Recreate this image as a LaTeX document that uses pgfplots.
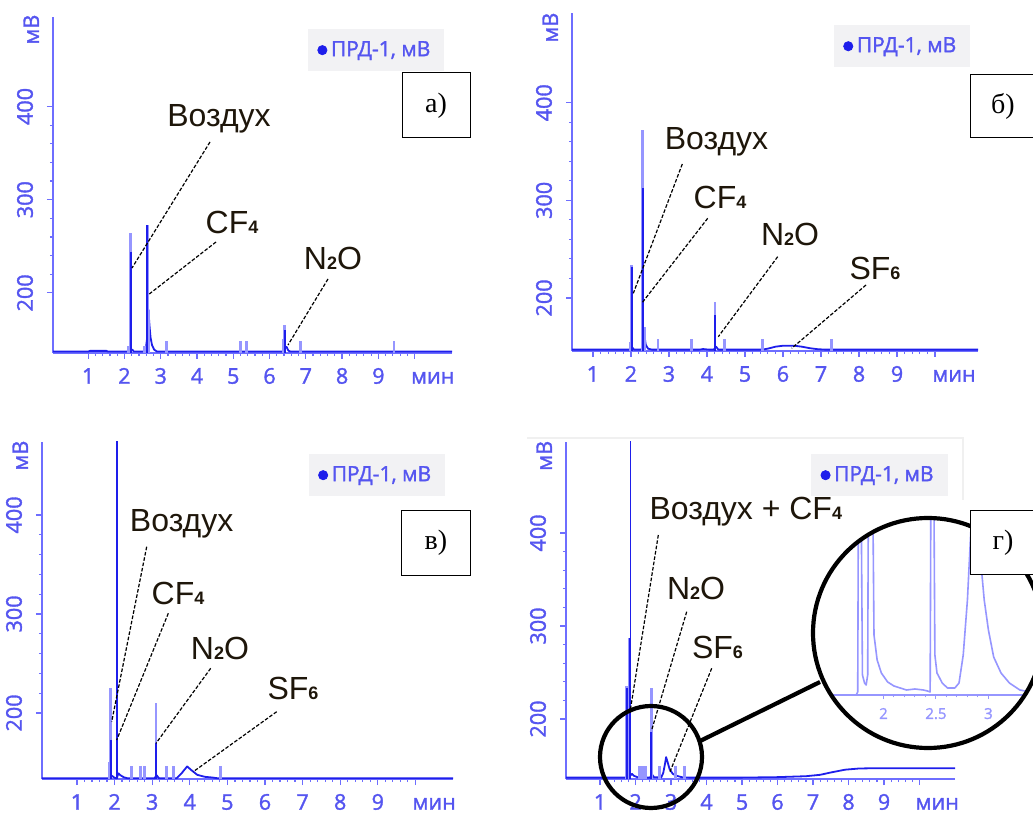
\documentclass[border=0pt]{standalone}
\usepackage{fontspec}
\usepackage{pgfplots}
\pgfplotsset{compat=1.18}
\setmainfont{Liberation Sans}
\newfontfamily\osans[FakeBold=1.5]{Open Sans}
\newfontfamily\tnr{Liberation Serif}
\definecolor{axblue}{RGB}{110,110,255}
\definecolor{lblblue}{RGB}{85,85,240}
\definecolor{tdark}{RGB}{30,30,235}
\definecolor{tlight}{RGB}{150,150,255}
\definecolor{leggray}{RGB}{242,242,244}
\definecolor{anntext}{RGB}{30,22,10}
\newcommand{\sub}[1]{{\fontsize{9pt}{9pt}\selectfont\bfseries #1}}
\pgfplotsset{
  chrom/.style={
    scale only axis,
    anchor=south west,
    axis x line=bottom, axis y line=left,
    axis line style={axblue, line width=0.9pt, -},
    tick style={axblue, line width=0.6pt},
    tick align=outside,
    major tick length=3pt, minor tick length=1.6pt,
    minor x tick num=4, minor y tick num=4,
    xtick={1,...,10}, xticklabels={1,2,3,4,5,6,7,8,9,{}},
    extra x ticks={10.5}, extra x tick labels={мин},
    extra x tick style={major tick length=0pt, xticklabel style={yshift=-3pt}},
    ytick={200,300,400},
    extra y tick style={major tick length=0pt},
    /pgf/number format/assume math mode=true,
    ticklabel style={font=\osans\fontsize{10.8}{10.8}\selectfont, text=lblblue},
    xticklabel style={text height=7.6pt, text depth=0pt, yshift=-1.2pt},
    yticklabel style={rotate=90, anchor=south, yshift=3.5pt},
    legend style={fill=leggray, draw=none, font=\osans\fontsize{10.5}{10.5}\selectfont, text=lblblue,
      at={(0.982,0.965)}, anchor=north east, inner xsep=5pt, inner ysep=4pt},
    legend cell align=left,
  },
  base/.style={tdark, line width=0.9pt, line join=round, forget plot},
  lspk/.style={tlight, line width=1.4pt, ycomb, forget plot},
  dspk/.style={tdark, line width=1.0pt, ycomb, forget plot},
  limg/.style={only marks, mark=*, mark size=2.3pt, tdark},
}
\begin{document}
\begin{tikzpicture}
\path[use as bounding box] (0,0) rectangle (516.5pt,407pt);

% ---------- panel a
\begin{axis}[chrom, at={(26.5pt,230.5pt)}, width=199.5pt, height=168pt,
  xmin=0.03, xmax=11.03, ymin=135.5, ymax=496,
  extra y ticks={482.5}, extra y tick labels={мВ}]
\addlegendimage{limg}
\addlegendentry{ПРД-1, мВ}
\addplot[base] coordinates {(0.03,137) (1.0,137) (1.05,137.8) (1.5,137.8) (1.55,137) (2.12,137) (2.16,139) (2.22,139) (2.26,137) (2.58,137) (2.62,150) (2.66,182) (2.69,165) (2.72,152) (2.76,144) (2.82,139) (2.9,137) (6.36,137) (6.40,142) (6.47,142) (6.52,138) (6.58,137) (11.03,137)};
\addplot[lspk] coordinates {(2.17,264) (2.635,273) (2.67,182) (6.42,166) (6.38,150) (3.15,148) (5.19,148) (5.37,148) (6.86,148) (9.43,148) (2.10,143) (2.55,143)};
\addplot[dspk] coordinates {(2.175,244) (2.63,273) (6.43,160)};
\end{axis}

% ---------- panel b
\begin{axis}[chrom, at={(286pt,231.5pt)}, width=203pt, height=169pt,
  xmin=0.45, xmax=11.13, ymin=145.6, ymax=492,
  extra y ticks={477}, extra y tick labels={мВ}]
\addlegendimage{limg}
\addlegendentry{ПРД-1, мВ}
\addplot[base] coordinates {(0.45,147) (2.0,147) (2.04,149) (2.08,147) (2.28,147) (2.32,152) (2.36,160) (2.39,152) (2.45,148) (2.55,147) (3.8,147) (3.9,147.6) (4.05,147) (4.18,147) (4.24,150) (4.30,147) (5.45,147) (5.6,148) (5.8,150) (6.0,151) (6.3,151) (6.5,150) (6.7,148.5) (6.9,147.5) (7.1,147) (11.13,147)};
\addplot[lspk] coordinates {(2.02,234) (2.30,372) (2.35,170) (4.21,196) (2.71,158) (3.60,158) (4.47,158) (5.47,158) (7.28,158) (1.98,155)};
\addplot[dspk] coordinates {(2.025,232) (2.305,313) (4.215,182)};
\end{axis}

% ---------- panel c
\begin{axis}[chrom, at={(21pt,17.5pt)}, width=205.5pt, height=168.5pt,
  xmin=0.07, xmax=11.0, ymin=133.3, ymax=473.7,
  extra y ticks={460}, extra y tick labels={мВ}]
\addlegendimage{limg}
\addlegendentry{ПРД-1, мВ}
\addplot[base] coordinates {(0.07,134) (1.86,134) (1.9,137) (1.95,136) (2.0,134.5) (2.06,134) (2.1,139) (2.16,137) (2.25,135) (2.35,134) (3.06,134) (3.12,137) (3.18,134) (3.65,134) (3.78,139) (3.93,146) (4.05,142) (4.2,137.5) (4.4,135.5) (4.6,134.8) (4.75,134) (11.0,134)};
\addplot[lspk] coordinates {(1.90,225) (3.10,210) (1.86,150) (2.46,146) (2.68,146) (2.79,146) (3.39,146) (3.57,146) (4.81,146)};
\addplot[dspk] coordinates {(1.905,173) (3.105,170)};
\addplot[dspk, line width=1.3pt] coordinates {(2.06,600)};
\end{axis}

% ---------- panel d
\begin{axis}[chrom, at={(283pt,17.5pt)}, width=194.5pt, height=168.5pt,
  xmin=0.04, xmax=11.0, ymin=135.5, ymax=497.8,
  extra y ticks={483}, extra y tick labels={мВ}]
\addlegendimage{limg}
\addlegendentry{ПРД-1, мВ}
\addplot[base] coordinates {(0.04,137) (1.72,137) (1.78,140) (1.82,138) (1.9,141) (1.95,139) (2.05,137.5) (2.15,137) (2.40,137) (2.47,140) (2.52,137.5) (2.72,137) (2.78,142) (2.83,152) (2.86,159) (2.90,154) (2.96,146) (3.05,141) (3.15,139) (3.3,137.5) (3.5,137) (5.0,137) (6.0,137.5) (6.8,138.5) (7.2,140) (7.5,142.5) (7.9,145.5) (8.3,146.8) (8.6,147) (11.0,147)};
\addplot[lspk] coordinates {(1.75,235) (1.84,287) (2.44,233) (2.11,149) (2.20,149) (2.27,149) (2.67,149) (3.12,149) (3.37,149)};
\addplot[dspk] coordinates {(1.755,233) (1.83,287) (2.445,186)};
\addplot[dspk, line width=0.6pt] coordinates {(1.85,600)};
\end{axis}

% ---------- inset (zoomed region of panel d)
\fill[white] (464pt,90.5pt) circle (57.5pt);
\begin{scope}
\clip (464pt,90.5pt) circle (57.5pt);
\begin{axis}[scale only axis, anchor=south west, at={(416pt,59.5pt)}, width=105.5pt, height=88.5pt,
  xmin=1.51, xmax=3.52, ymin=0, ymax=177, clip=false,
  axis x line=bottom, axis y line=none,
  axis line style={tlight, line width=0.7pt, -},
  tick style={tlight, line width=0.5pt}, tick align=outside,
  major tick length=2pt, minor tick length=1.2pt, minor x tick num=4,
  xtick={2,2.5,3}, xticklabels={2,2.5,3},
  /pgf/number format/assume math mode=true,
  xticklabel style={font=\osans\fontsize{7.5}{7.5}\selectfont, text=tlight, yshift=-1pt}]
\addplot[tlight, line width=0.8pt, line join=round] coordinates {(1.51,0) (1.74,0) (1.755,3) (1.765,300) (1.78,300) (1.80,20) (1.82,12) (1.835,10) (1.85,20) (1.86,300) (1.89,300) (1.91,60) (1.94,35) (1.98,22) (2.04,13) (2.10,9) (2.16,7) (2.22,5) (2.30,6) (2.38,5) (2.42,4) (2.445,3) (2.455,300) (2.475,300) (2.49,40) (2.51,22) (2.56,12) (2.61,7) (2.68,7) (2.72,12) (2.76,40) (2.80,95) (2.84,180) (2.87,300) (2.91,300) (2.93,130) (2.96,95) (3.00,65) (3.05,38) (3.12,22) (3.20,12) (3.30,5) (3.40,3) (3.52,2)};
\end{axis}
\end{scope}

% ---------- annotations (pixel frame)
\begin{scope}[x=0.5pt, y=-0.5pt, yshift=407pt]
\tikzset{ann/.style={font=\fontsize{16}{16}\selectfont, text=anntext, inner sep=0pt},
         dl/.style={black, line width=0.6pt, dash pattern=on 1.8pt off 0.9pt}}
% faint frame in panel d
\draw[gray!12, line width=0.8pt] (527,438) -- (963,438) -- (963,500);
% panel a
\node[ann] at (219,119) {Воздух};
\draw[dl] (210,142) -- (132,268);
\node[ann] at (232,222) {CF\sub{4}};
\draw[dl] (216,242) -- (148,295);
\node[ann] at (333,258) {N\sub{2}O};
\draw[dl] (328,279) -- (288,345);
% panel b
\node[ann] at (716.5,142) {Воздух};
\draw[dl] (682.3,164) -- (633.3,293.3);
\node[ann] at (720,197) {CF\sub{4}};
\draw[dl] (707.7,218.3) -- (641.7,303.3);
\node[ann] at (790,234) {N\sub{2}O};
\draw[dl] (777.7,256.7) -- (718.3,336.7);
\node[ann] at (875,268) {SF\sub{6}};
\draw[dl] (866,285) -- (791.7,348.3);
% panel c
\node[ann] at (181.7,524) {Воздух};
\draw[dl] (146.7,546.7) -- (111.7,721.7);
\node[ann] at (178,593) {CF\sub{4}};
\draw[dl] (168.3,613.3) -- (116.7,740);
\node[ann] at (220,648) {N\sub{2}O};
\draw[dl] (210.7,668.3) -- (156,743.3);
\node[ann] at (293,688) {SF\sub{6}};
\draw[dl] (276.7,711.7) -- (193.3,771.7);
% panel d
\node[ann] at (745.8,512) {Воздух + CF\sub{4}};
\draw[dl] (658.3,535) -- (630,712);
\node[ann] at (696,588) {N\sub{2}O};
\draw[dl] (686.7,611.7) -- (651.7,730);
\node[ann] at (717.5,647) {SF\sub{6}};
\draw[dl] (711.7,668.3) -- (670,771.7);
% magnifier
\draw[black, line width=2.1pt] (928,633) circle (57.5pt);
\draw[black, line width=2.1pt] (651,757) circle (25.5pt);
\draw[black, line width=2.1pt] (698,742) -- (820,682);
% panel labels
\draw[black, line width=0.5pt, fill=white] (402,73) rectangle (470,138);
\node[font=\tnr\fontsize{14}{14}\selectfont] at (436,106) {а)};
\draw[black, line width=0.5pt, fill=white] (970.7,75) rectangle (1045,137.7);
\node[font=\tnr\fontsize{14}{14}\selectfont] at (1003,106) {б)};
\draw[black, line width=0.5pt, fill=white] (401.7,510.7) rectangle (470,576);
\node[font=\tnr\fontsize{14}{14}\selectfont] at (436,543) {в)};
\draw[black, line width=0.5pt, fill=white] (970.7,510.7) rectangle (1045,575);
\node[font=\tnr\fontsize{14}{14}\selectfont] at (1003,543) {г)};
\end{scope}
\end{tikzpicture}
\end{document}
